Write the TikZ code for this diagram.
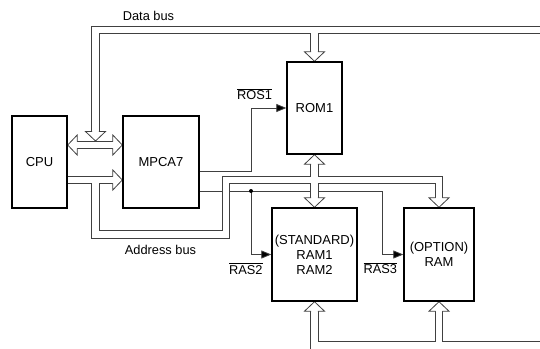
\documentclass[tikz,border=0pt]{standalone}
\usepackage{fontspec}
\setmainfont{Liberation Sans}
\usetikzlibrary{arrows.meta,backgrounds}

\begin{document}
\begin{tikzpicture}[x=1pt, y=-1pt,
    box/.style={draw, line width=1.4pt, inner sep=0pt, align=center, font=\fontsize{13}{14.8}\selectfont},
    sig/.style={line width=0.8pt, draw=black!75},
    sigarr/.style={sig, -{Triangle[length=10pt, width=8pt, fill=black]}},
    lbl/.style={inner sep=0pt, font=\fontsize{12.8}{14.5}\selectfont},
    busend/.style={shorten >=9.5pt},
    bushead/.pic={
        \fill[white] (0,0) -- (-9.5,10) -- (-9.5,-10) -- cycle;
        \draw[sig] (-9.5,3.3) -- (-9.5,10) -- (0,0) -- (-9.5,-10) -- (-9.5,-3.3);
    }
]
\useasboundingbox (0,0) rectangle (540,348);

% blocks
\node[box, minimum width=55pt, minimum height=92pt] (cpu) at (39.5,162) {CPU};
\node[box, minimum width=76pt, minimum height=92pt] (mpca) at (161,162) {MPCA7};
\node[box, minimum width=55pt, minimum height=92pt] (rom) at (314.5,108) {ROM1};
\node[box, minimum width=85pt, minimum height=93pt] (ram) at (314.5,254.5) {(STANDARD)\\RAM1\\RAM2};
\node[box, minimum width=70pt, minimum height=93pt] (opt) at (439,254.5) {(OPTION)\\RAM};

% labels
\node[lbl, anchor=base] (dblbl) at (148.5,20.7) {Data bus};
\node[lbl, anchor=base] (ablbl) at (160.5,254) {Address bus};
\node[lbl, anchor=base east] (ros) at ([xshift=-14pt, yshift=8.5pt]rom.west) {$\overline{\hbox{ROS1}}$};
\node[lbl, anchor=base east] (ras2) at ([xshift=-8.5pt, yshift=-19.5pt]ram.west) {$\overline{\hbox{RAS2}}$};
\node[lbl, anchor=base east] (ras3) at ([xshift=-6pt, yshift=-19pt]opt.west) {$\overline{\hbox{RAS3}}$};

% bus reference points
\coordinate (dbr) at (545,30);
\coordinate (dbb) at (545,345.5);
\coordinate (dbtip) at (95.5,141);
\coordinate (lnk) at (95.5,145);
\coordinate (ab) at (95.5,180);
\coordinate (abr) at (226,234.5);
\coordinate (rasj) at (251,191);

\begin{scope}[on background layer]
% select lines
\draw[sigarr] ([yshift=-9pt]mpca.east) -| ([xshift=-35pt]rom.west) -- (rom.west);
\draw[sigarr] ([yshift=-29pt]mpca.east) -| ([xshift=-21pt]opt.west) -- (opt.west);
\draw[sigarr] (rasj) |- (ram.west);
\fill[black] (rasj) circle (2pt);

% buses: outline first, then the white core
\foreach \w/\c in {8.1pt/black!75, 6.5pt/white} {
  \begin{scope}[line width=\w, draw=\c]
    \draw[busend] (dbr) -| (dbtip);
    \draw[busend] (rom.north |- dbr) -- (rom.north);
    \draw[busend] (dbb) -| (opt.south);
    \draw[busend] (opt.south |- dbb) -| (ram.south);
    \draw[busend, shorten <=9.5pt] (cpu.east |- lnk) -- (mpca.west |- lnk);
    \draw[busend] (cpu.east |- ab) -- (mpca.west |- ab);
    \draw[busend] (ab) |- (abr) -- (abr |- ab) -| (opt.north);
    \draw[busend, shorten <=9.5pt] (rom.south) -- (ram.north);
  \end{scope}
}

% bus arrow heads
\pic[rotate=-90] at (dbtip) {bushead};
\pic[rotate=-90] at (rom.north) {bushead};
\pic[rotate=90] at (rom.south) {bushead};
\pic[rotate=-90] at (ram.north) {bushead};
\pic[rotate=90] at (ram.south) {bushead};
\pic[rotate=-90] at (opt.north) {bushead};
\pic[rotate=90] at (opt.south) {bushead};
\pic[rotate=180] at (cpu.east |- lnk) {bushead};
\pic at (mpca.west |- lnk) {bushead};
\pic at (mpca.west |- ab) {bushead};
\end{scope}
\end{tikzpicture}
\end{document}
